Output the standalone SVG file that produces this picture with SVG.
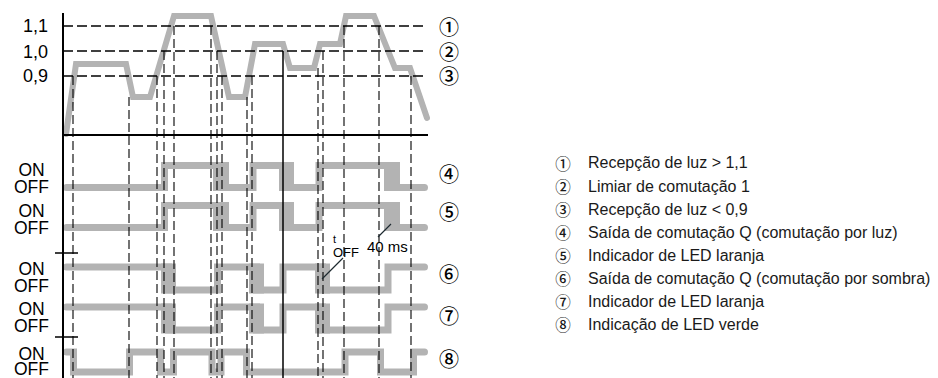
<svg xmlns="http://www.w3.org/2000/svg" width="938" height="378" viewBox="0 0 938 378">
<style>
.sig{fill:none;stroke:#b3b3b3;stroke-width:7;stroke-linejoin:miter;stroke-linecap:round}
.blk{fill:#b3b3b3}
.in{fill:none;stroke:#b3b3b3;stroke-width:6;stroke-linejoin:miter;stroke-linecap:round}
.hd{stroke:#000;stroke-width:1.5;stroke-dasharray:10 4;fill:none}
.vd{stroke:#000;stroke-width:1.1;stroke-dasharray:9 4;fill:none}
.ax{stroke:#000;stroke-width:2;fill:none}
.tk{stroke:#000;stroke-width:1.5;fill:none}
.ld{stroke:#1e2a30;stroke-width:1.2;fill:none}
.lbl{font-family:"Liberation Sans",Arial,sans-serif;font-size:17.5px;fill:#000;text-anchor:middle}
.num{font-family:"Liberation Sans",Arial,sans-serif;font-size:18px;fill:#000;text-anchor:end}
.ann{font-family:"Liberation Sans",Arial,sans-serif;fill:#000}
.cn{font-family:"Noto Sans CJK JP","DejaVu Sans",sans-serif;font-size:20px;font-weight:500;fill:#000;text-anchor:middle;dominant-baseline:central}
.lg{font-family:"Liberation Sans",Arial,sans-serif;font-size:16px;fill:#1a1a1a}
.lc{font-family:"Noto Sans CJK JP","DejaVu Sans",sans-serif;font-size:15.5px;font-weight:500;fill:#1a1a1a;text-anchor:middle;dominant-baseline:central}
</style>

<g id="input-signal">
<path class="in" d="M66,134 L76,64 L126,64 L133,97 L150,97 L174,16 L211,16 L229,97 L245,97 L255,44 L283,44 L290,68 L314,68 L320,44 L340,44 L346,16 L374,16 L395,68 L410,68 L427,118"/>
</g>

<g id="signal-4">
<path class="sig" d="M66.5,187.5 H164.5 V165.5 H221 V187.5 H253 V165.5 H286.5 V187.5 H319 V165.5 H392 V187.5 H424.5"/>
<rect class="blk" x="213" y="162" width="16" height="29"/>
<rect class="blk" x="279" y="162" width="15" height="29"/>
<rect class="blk" x="384" y="162" width="16" height="29"/>
</g>
<g id="signal-5">
<path class="sig" d="M66.5,227.5 H164.5 V205.5 H221 V227.5 H253 V205.5 H286.5 V227.5 H319 V205.5 H392 V227.5 H424.5"/>
<rect class="blk" x="213" y="202" width="16" height="29"/>
<rect class="blk" x="279" y="202" width="15" height="29"/>
<rect class="blk" x="384" y="202" width="16" height="29"/>
</g>
<g id="signal-6">
<path class="sig" d="M66.5,267 H168.5 V290 H217.5 V267 H256.5 V290 H283 V267 H322.5 V290 H388 V267 H424.5"/>
<rect class="blk" x="161" y="263.5" width="15" height="30"/>
<rect class="blk" x="249" y="263.5" width="15" height="30"/>
<rect class="blk" x="315" y="263.5" width="15" height="30"/>
</g>
<g id="signal-7">
<path class="sig" d="M66.5,307 H168.5 V330 H217.5 V307 H256.5 V330 H283 V307 H322.5 V330 H388 V307 H424.5"/>
<rect class="blk" x="161" y="303.5" width="15" height="30"/>
<rect class="blk" x="249" y="303.5" width="15" height="30"/>
<rect class="blk" x="315" y="303.5" width="15" height="30"/>
</g>
<g id="signal-8">
<path class="sig" d="M66.5,352 H73.5 V372 H129.5 V352 H160.5 V372 H173.5 V352 H212 V372 H221 V352 H246.5 V372 H345 V352 H380.5 V372 H413.5 V352 H424.5"/>
</g>

<g id="connectors">
<path class="hd" d="M63,26 H427 M63,51 H427 M63,76 H427"/>
<path class="vd" d="M73,76 V378 M129,97 V378 M157,76 V378 M164,51 V378 M174,26 V378 M211,26 V378 M217,51 V378 M222,76 V378 M247,97 V378 M252,76 V378 M318,68 V378 M323,51 V378 M344,26 V378 M379,26 V378 M411,76 V378"/>
<path class="tk" d="M283,51 V378"/>
<path class="ld" d="M343,258 L322,279 M378,237 L391,224"/>
</g>

<g id="axes">
<path class="ax" d="M63,13 V378 M63,135 H428"/>
<path class="tk" d="M55,253 H78 M55,337 H78"/>
</g>

<g id="labels">
<text class="num" x="48" y="32">1,1</text>
<text class="num" x="48" y="58">1,0</text>
<text class="num" x="48" y="82">0,9</text>
<text class="lbl" x="31.5" y="176">ON</text>
<text class="lbl" x="31.5" y="193">OFF</text>
<text class="lbl" x="31.5" y="217">ON</text>
<text class="lbl" x="31.5" y="234">OFF</text>
<text class="lbl" x="31.5" y="275">ON</text>
<text class="lbl" x="31.5" y="291.5">OFF</text>
<text class="lbl" x="31.5" y="315">ON</text>
<text class="lbl" x="31.5" y="331.5">OFF</text>
<text class="lbl" x="31.5" y="359.5">ON</text>
<text class="lbl" x="31.5" y="375">OFF</text>
<text class="ann" x="333" y="242.5" font-size="11">t</text>
<text class="ann" x="333" y="257" font-size="13">OFF</text>
<text class="ann" x="367" y="252" font-size="15">40 ms</text>
</g>

<g id="markers">
<text class="cn" x="449" y="26.5">①</text>
<text class="cn" x="449" y="51">②</text>
<text class="cn" x="449" y="75">③</text>
<text class="cn" x="449" y="173.5">④</text>
<text class="cn" x="449" y="211.5">⑤</text>
<text class="cn" x="449" y="273">⑥</text>
<text class="cn" x="449" y="315">⑦</text>
<text class="cn" x="449" y="358">⑧</text>
</g>

<g id="legend">
<text class="lc" x="563" y="162.5">①</text><text class="lg" x="588" y="168.3">Recepção de luz &gt; 1,1</text>
<text class="lc" x="563" y="185.7">②</text><text class="lg" x="588" y="191.5">Limiar de comutação 1</text>
<text class="lc" x="563" y="208.7">③</text><text class="lg" x="588" y="214.5">Recepção de luz &lt; 0,9</text>
<text class="lc" x="563" y="231.7">④</text><text class="lg" x="588" y="237.5">Saída de comutação Q (comutação por luz)</text>
<text class="lc" x="563" y="254.7">⑤</text><text class="lg" x="588" y="260.5">Indicador de LED laranja</text>
<text class="lc" x="563" y="277.7">⑥</text><text class="lg" x="588" y="283.5">Saída de comutação Q (comutação por sombra)</text>
<text class="lc" x="563" y="300.7">⑦</text><text class="lg" x="588" y="306.5">Indicador de LED laranja</text>
<text class="lc" x="563" y="323.7">⑧</text><text class="lg" x="588" y="329.5">Indicação de LED verde</text>
</g>
</svg>
